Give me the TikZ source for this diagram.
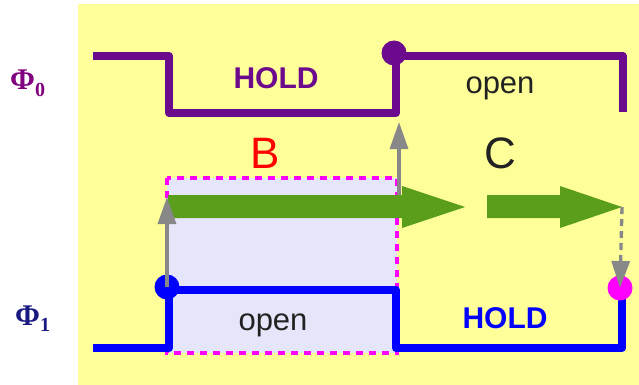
\documentclass[tikz,border=0pt]{standalone}
\usepackage{fontspec}
\setmainfont{Liberation Sans}
\newfontfamily\phifont{Liberation Serif}
\usetikzlibrary{arrows.meta}
\definecolor{bgyellow}{HTML}{FFFF99}
\definecolor{wpurple}{HTML}{6C0A8E}
\definecolor{phipurple}{HTML}{800080}
\definecolor{phinavy}{HTML}{1A1A80}
\definecolor{wblue}{HTML}{0000FF}
\definecolor{lav}{HTML}{E6E6FA}
\definecolor{mag}{HTML}{FF00FF}
\definecolor{grn}{HTML}{5A9E1C}
\definecolor{gry}{HTML}{888888}
\definecolor{txt}{HTML}{222222}
\tikzset{
  wave/.style={line width=8pt, line join=round, line cap=butt},
  dot/.style={circle, inner sep=0pt, minimum size=25pt},
  garrow/.style={draw=gry, line width=3.3pt, -{Triangle[length=27pt,width=18pt]}},
  lbl/.style={inner sep=0pt, font=\fontsize{31}{31}\selectfont},
  big/.style={inner sep=0pt, font=\fontsize{44}{44}\selectfont},
  philbl/.style={inner sep=0pt, font=\phifont\bfseries\fontsize{30}{30}\selectfont},
}
\begin{document}
\begin{tikzpicture}[x=1pt,y=-1pt]
\useasboundingbox (0,0) rectangle (639,385);
\fill[bgyellow] (78,4) rectangle (639,385);
% lavender box
\fill[lav] (167,178) rectangle (397,353);
% dashed box border
\draw[mag, line width=4pt, dash pattern=on 7pt off 6pt] (167,178) rectangle (397,353);
% green arrows
\fill[grn] (168,195) -- (402,195) -- (402,186) -- (465,207) -- (402,228) -- (402,218) -- (168,218) -- cycle;
\fill[grn] (487,195) -- (560,195) -- (560,186) -- (622,207) -- (560,228) -- (560,218) -- (487,218) -- cycle;
% waveforms
\draw[wave, wpurple] (93,56) -- (169,56) -- (169,113) -- (396,113) -- (396,56) -- (623,56) -- (623,112);
\draw[wave, wblue] (93,348) -- (169,348) -- (169,290) -- (396,290) -- (396,348) -- (622,348) -- (622,290);
% dots
\node[dot, fill=wpurple] (p0) at (394,53) {};
\node[dot, fill=wblue] (b1) at (167,287) {};
\node[dot, fill=mag] (m1) at (620,288) {};
\coordinate (g1) at (167,197);
\coordinate (g2s) at (399,195);
\coordinate (g2e) at (399,122);
\coordinate (g3s) at (622,207);
% gray arrows
\draw[garrow] (b1.center) -- (g1);
\draw[garrow] (g2s) -- (g2e);
\draw[garrow, dash pattern=on 7pt off 5pt] (g3s) -- (m1.center);
% texts
\node[lbl, text=wpurple, font=\bfseries\fontsize{30}{30}\selectfont] (hold0) at (276,78) {HOLD};
\node[lbl, text=txt] (open0) at (500,88) {open};
\node[lbl, text=txt] (open1) at (273,325) {open};
\node[lbl, text=wblue, font=\bfseries\fontsize{30}{30}\selectfont] (hold1) at (505,318) {HOLD};
\node[big, text=red] (B) at (265,153) {B};
\node[big, text=txt] (C) at (500,153) {C};
\node[philbl, text=phipurple, anchor=base west] (phi0) at (10,90) {Φ\raisebox{-6pt}{\fontsize{20}{20}\selectfont 0}};
\node[philbl, text=phinavy, anchor=base west] (phi1) at (15,325) {Φ\raisebox{-6pt}{\fontsize{20}{20}\selectfont 1}};
\end{tikzpicture}
\end{document}
